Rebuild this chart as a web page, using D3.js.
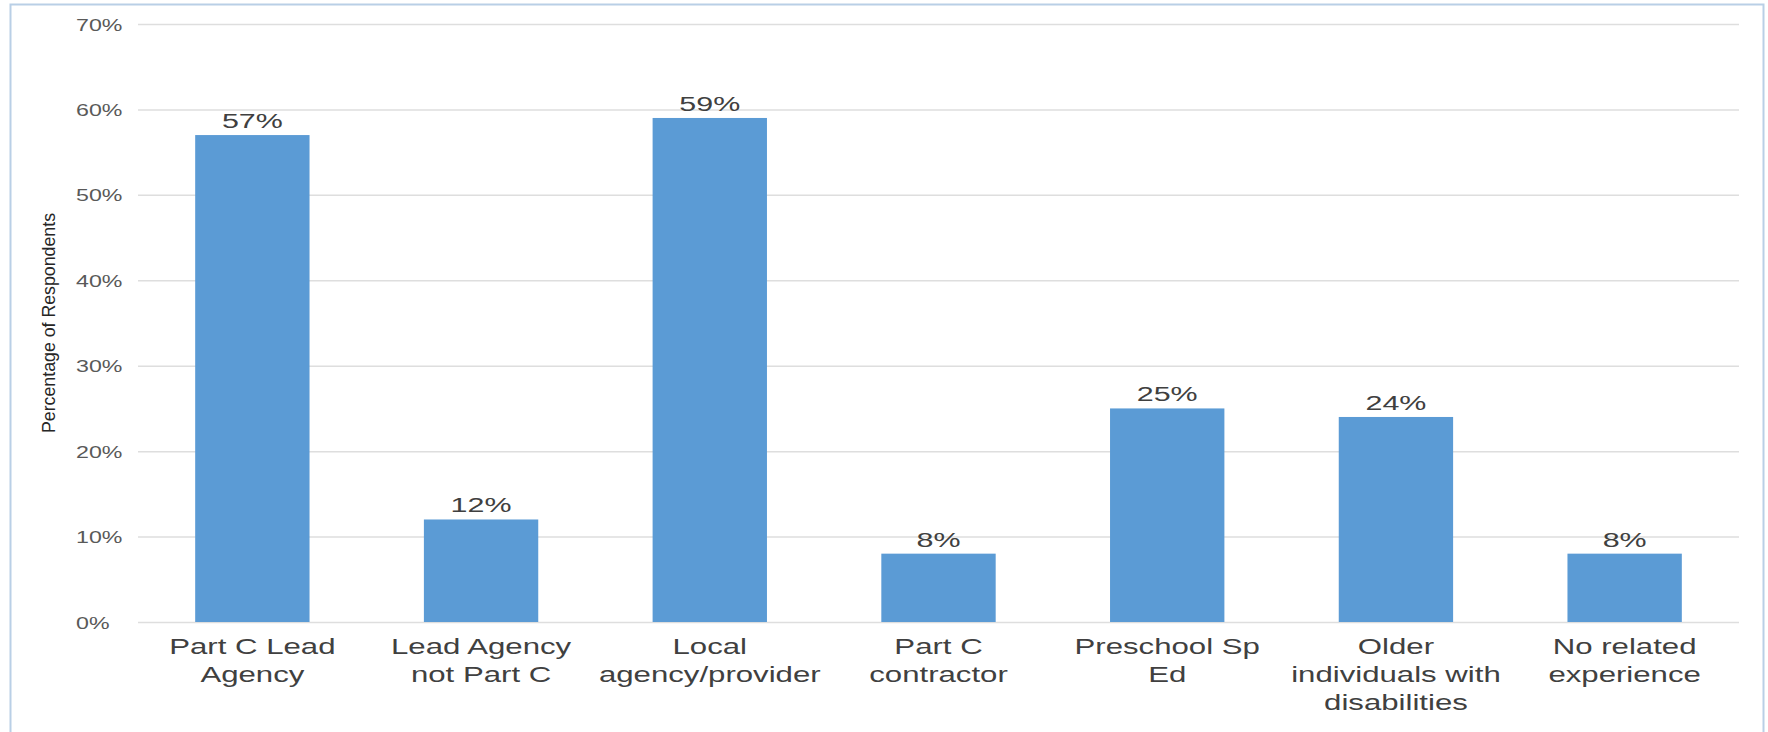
<!DOCTYPE html>
<html><head><meta charset="utf-8">
<script src="https://cdn.jsdelivr.net/npm/d3@7"></script>
<style>body{margin:0;background:#fff}svg{display:block}</style>
</head><body>
<svg id="chart" width="1768" height="732"></svg>
<script>
const categories = [
  ["Part C Lead", "Agency"],
  ["Lead Agency", "not Part C"],
  ["Local", "agency/provider"],
  ["Part C", "contractor"],
  ["Preschool Sp", "Ed"],
  ["Older", "individuals with", "disabilities"],
  ["No related", "experience"]
];
const values = [57, 12, 59, 8, 25, 24, 8];
const yTicks = [0, 10, 20, 30, 40, 50, 60, 70];
const yTitle = "Percentage of Respondents";

const SX = 1.45; // horizontal stretch of text seen in the reference
const FONT = "Liberation Sans, Arial, sans-serif";
const svg = d3.select("#chart");
const m = {left: 138, right: 1739, top: 24, bottom: 622};

svg.append("rect").attr("x", 10.5).attr("y", 4.5).attr("width", 1753).attr("height", 740)
  .attr("fill", "#fff").attr("stroke", "#b9cfe6").attr("stroke-width", 2);

const x = d3.scaleBand().domain(d3.range(categories.length)).range([m.left, m.right]).paddingInner(0.5).paddingOuter(0.25);
const y = d3.scaleLinear().domain([0, 70]).range([m.bottom, m.top]);

const yAxis = d3.axisLeft(y).tickValues(yTicks).tickFormat(d => d + "%").tickSize(-(m.right - m.left));
const gy = svg.append("g").attr("transform", `translate(${m.left},0)`).call(yAxis);
gy.select(".domain").remove();
gy.selectAll(".tick line").attr("stroke", "#dedede").attr("stroke-width", 1.5);
gy.selectAll(".tick text")
  .attr("x", null).attr("dy", null).attr("y", 6)
  .attr("text-anchor", "start")
  .attr("transform", `translate(${76 - m.left},0) scale(${SX},1)`)
  .attr("fill", "#595959").style("font-family", FONT).style("font-size", "16px");

svg.append("text").attr("transform", `translate(55,${(m.top + m.bottom) / 2}) scale(${SX},1) rotate(-90)`)
  .attr("text-anchor", "middle").attr("fill", "#262626")
  .attr("textLength", 220).attr("lengthAdjust", "spacingAndGlyphs")
  .style("font-family", FONT).style("font-size", "13px")
  .text(yTitle);

svg.append("g").selectAll("rect").data(values).join("rect")
  .attr("x", (d, i) => x(i)).attr("width", x.bandwidth())
  .attr("y", d => y(d)).attr("height", d => y(0) - y(d))
  .attr("fill", "#5b9bd5");

svg.append("g").selectAll("text").data(values).join("text")
  .attr("transform", (d, i) => `translate(${x(i) + x.bandwidth() / 2},${y(d) - 7}) scale(${SX},1)`)
  .attr("text-anchor", "middle").attr("fill", "#404040")
  .style("font-family", FONT).style("font-size", "21px")
  .text(d => d + "%");

const xl = svg.append("g");
categories.forEach((lines, i) => {
  const t = xl.append("text").attr("text-anchor", "middle").attr("fill", "#404040")
    .attr("transform", `translate(${x(i) + x.bandwidth() / 2},0) scale(${SX},1)`)
    .style("font-family", FONT).style("font-size", "21.5px");
  lines.forEach((ln, j) => {
    t.append("tspan").attr("x", 0).attr("y", 654 + j * 28).text(ln);
  });
});
</script>
</body></html>
